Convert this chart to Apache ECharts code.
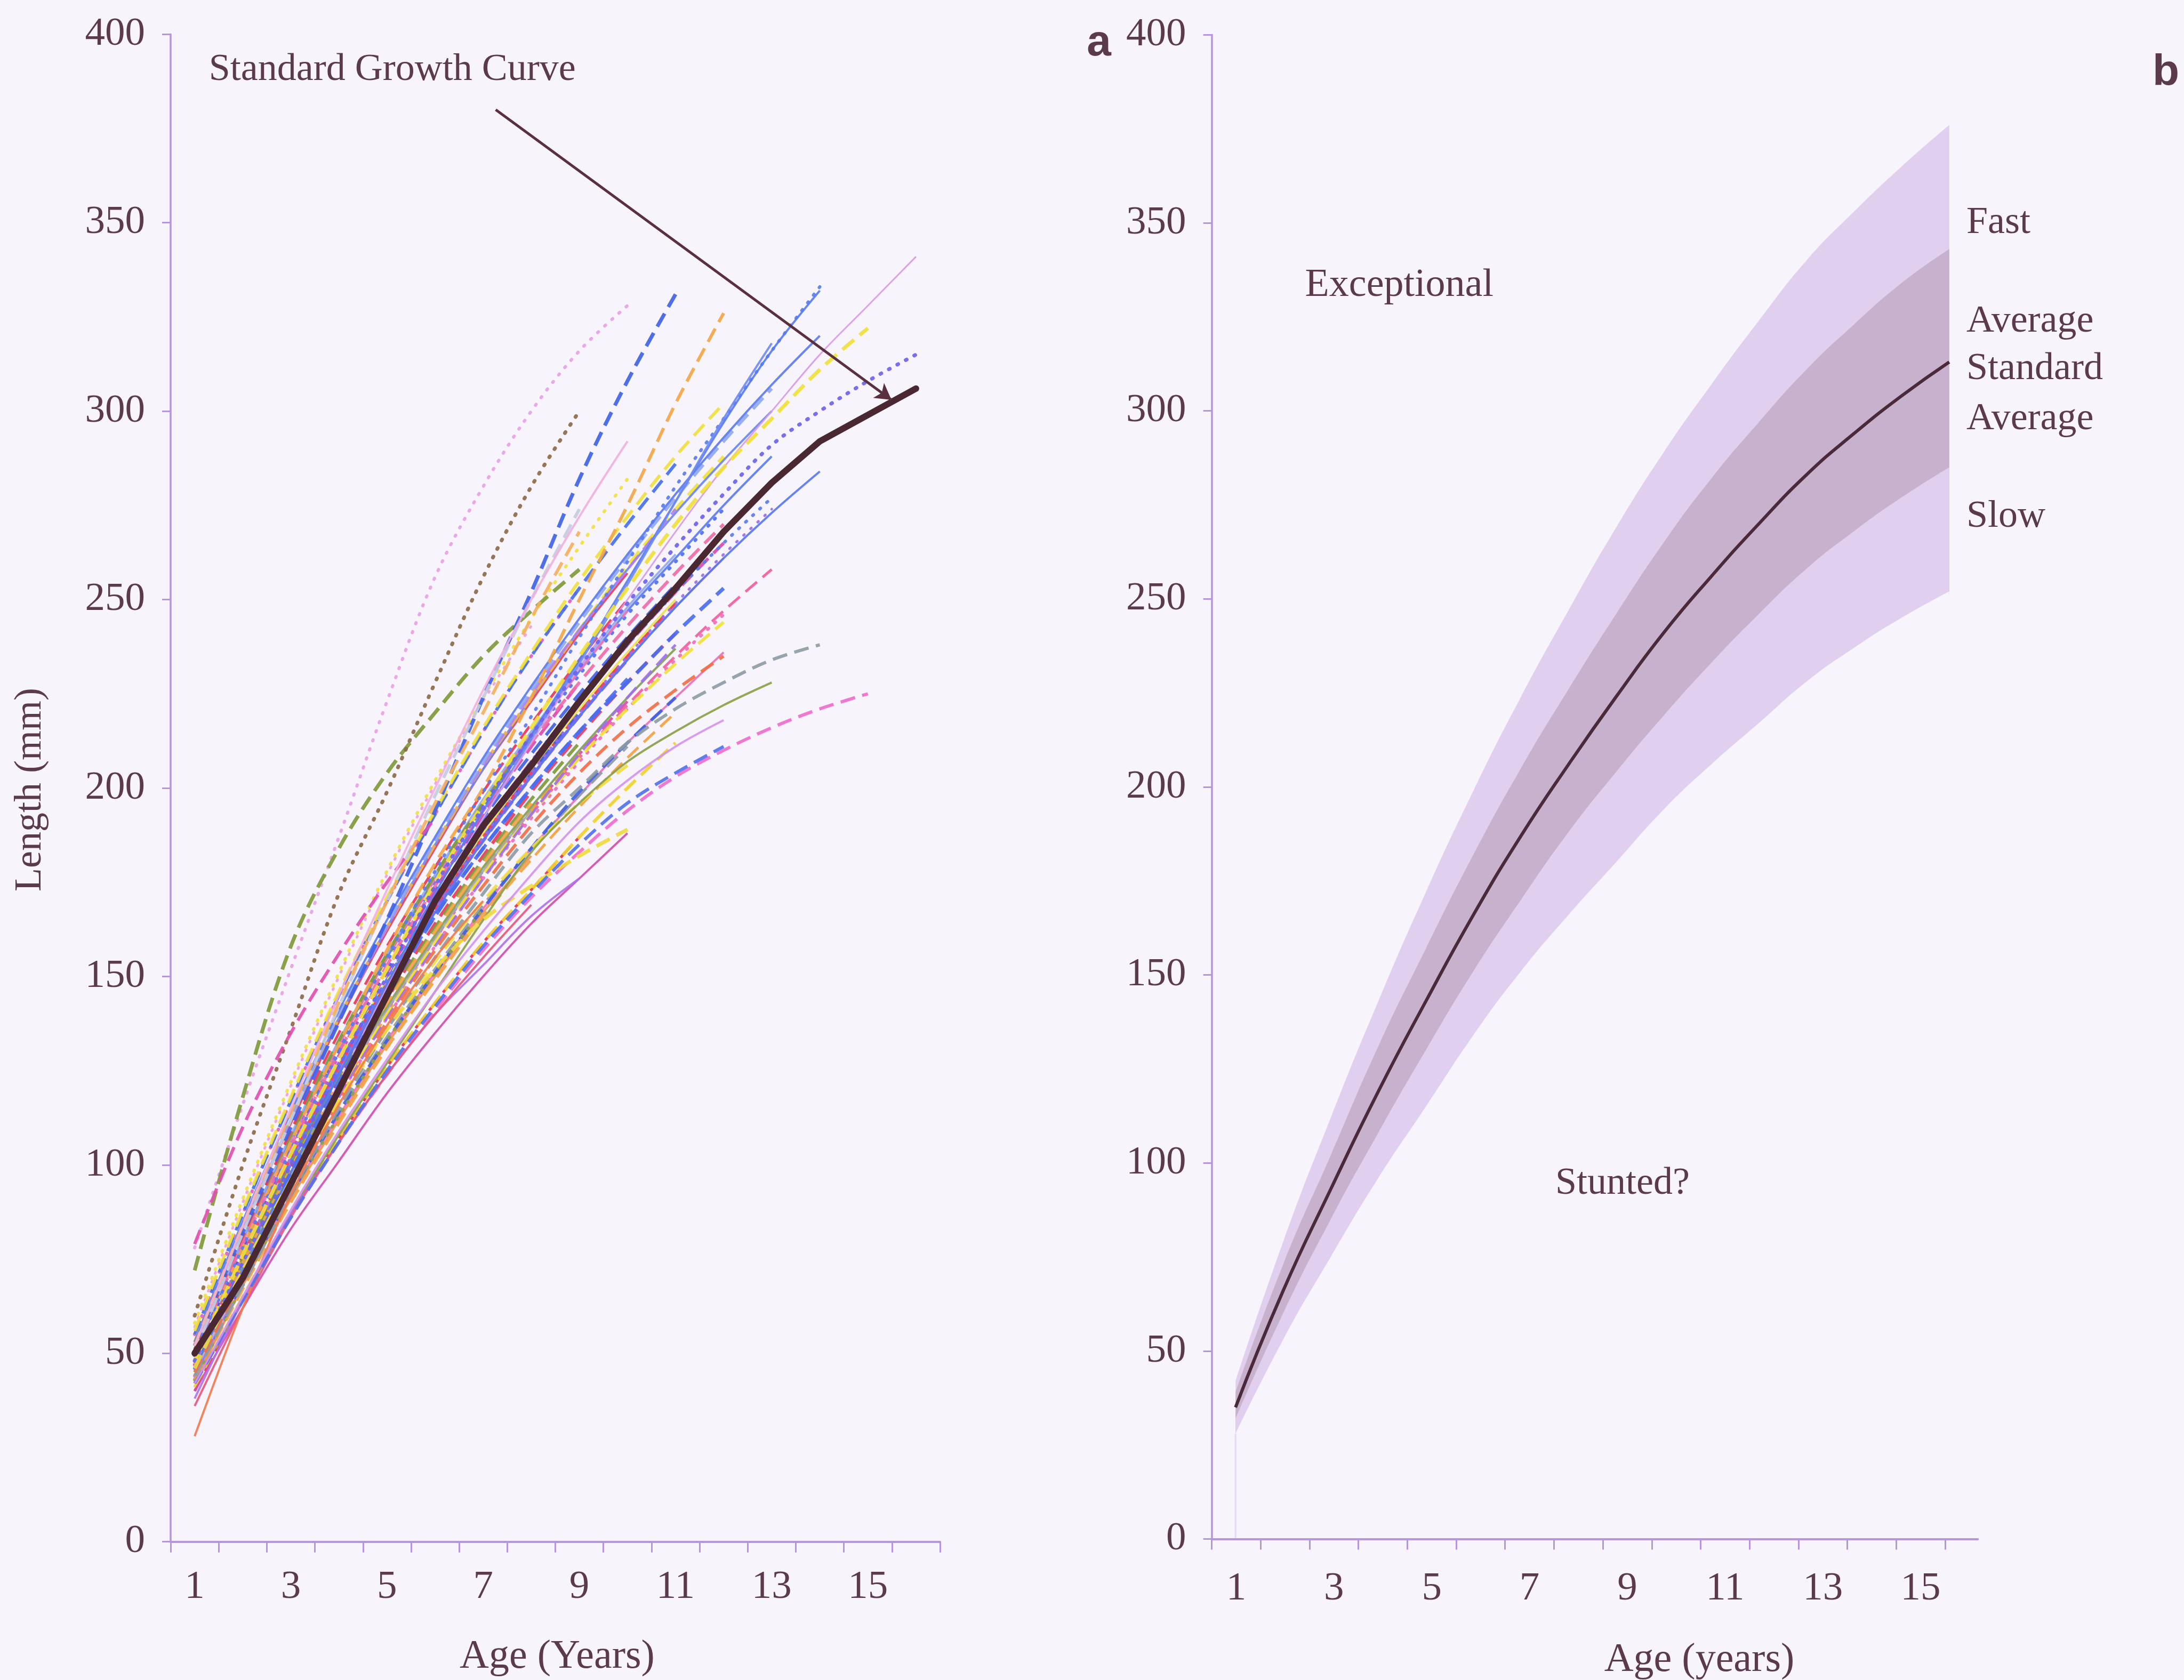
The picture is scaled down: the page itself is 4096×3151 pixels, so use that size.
<!DOCTYPE html>
<html><head><meta charset="utf-8">
<script src="https://cdn.jsdelivr.net/npm/echarts@6/dist/echarts.min.js"></script>
<style>html,body{margin:0;padding:0;background:#f8f4fb;}#c{width:4096px;height:3151px;}</style>
</head><body><div id="c"></div>
<script>
// ---------- categories / ticks ----------
const ageCatsA = ['1','2','3','4','5','6','7','8','9','10','11','12','13','14','15','16'];
const ageCatsB = ['1','2','3','4','5','6','7','8','9','10','11','12','13','14','15'];
const ages = [1,2,3,4,5,6,7,8,9,10,11,12,13,14,15,16];

// ---------- panel a : individual growth curves (length, mm, from age 1) ----------
const standardA = [50, 70, 95, 120, 145, 170, 190, 206, 223, 239, 253, 268, 281, 292, 299, 306];

const fishA = [78, 116, 152, 187, 223, 256, 280, 300, 316, 328];
const fishB = [72, 118, 158, 184, 204, 220, 235, 247, 258];
const fishC = [60, 100, 136, 172, 199, 228, 256, 280, 300];
const fishD = [52, 82, 110, 138, 165, 194, 224, 252, 282, 308, 331];
const fishE = [48, 78, 106, 132, 157, 180, 200, 224, 250, 275, 302, 326];
const fishF1 = [46, 72, 98, 124, 148, 172, 194, 214, 234, 255, 276, 297, 316, 332];
const fishF2 = [50, 78, 104, 130, 155, 178, 199, 219, 240, 260, 280, 298, 316, 333];
const fishF3 = [44, 70, 96, 121, 146, 170, 192, 213, 233, 254, 276, 298, 318];
const fishG = [45, 70, 96, 122, 147, 170, 192, 212, 232, 250, 268, 285, 300, 315, 328, 341];
const fishH = [48, 76, 103, 128, 152, 175, 196, 216, 235, 253, 270, 285, 298, 311, 322];
const fishI = [48, 74, 100, 126, 150, 174, 195, 214, 232, 249, 264, 278, 291, 300, 308, 315];
const fishJ = [44, 68, 92, 115, 136, 155, 172, 188, 200, 212, 221, 228, 234, 238];
const fishK = [42, 64, 87, 108, 127, 146, 165, 183, 196, 207, 215, 222, 228];
const fishL = [45, 70, 94, 117, 138, 157, 174, 190, 204, 216, 226, 235];
const fishM = [42, 64, 86, 106, 124, 141, 157, 171, 183, 194, 203, 210, 216, 221, 225];
const fishN = [46, 72, 98, 122, 145, 166, 184, 200, 215, 228, 241, 253];
const fishO = [38, 64, 87, 106, 124, 140, 153, 166, 176];
const fishP = [36, 62, 86, 106, 124, 140, 155, 169];
const fishQ = [46, 72, 96, 117, 136, 152, 165, 174, 182, 189];
const fishR = [28, 62, 92, 116, 137, 155, 170];
const fishS = [79, 110, 135, 156, 175, 192];
const fishT = [50, 82, 112, 142, 170, 198, 224, 250, 274];
const fishU = [52, 84, 114, 143, 170, 196, 220, 245, 268];
const fishV = [52, 84, 115, 145, 173, 200, 226, 250, 272, 292];
const fishW = [42, 64, 86, 106, 125, 142, 158, 172, 185, 196, 204, 211];
const fishX = [42, 65, 88, 109, 128, 146, 162, 177, 191, 202, 211, 218];

const fish01 = [50, 80, 107, 132, 155, 176, 196, 214, 231, 247, 261, 275, 288];
const fish02 = [47, 75, 101, 126, 148, 168, 187, 204, 220, 235, 249];
const fish03 = [53, 84, 112, 139, 163, 185, 206, 224, 242, 259, 274, 288];
const fish04 = [46, 72, 97, 120, 141, 160, 178, 194, 209, 223];
const fish05 = [48, 77, 103, 127, 149, 169, 187, 204, 220];
const fish06 = [50, 80, 107, 132, 155, 176, 196, 214];
const fish07 = [43, 68, 92, 113, 133, 151, 168, 184, 198, 212, 224, 236];
const fish08 = [45, 71, 96, 119, 140, 160, 178, 194, 209];
const fish09 = [48, 75, 101, 125, 147, 167, 186, 203, 219, 234, 248, 261];
const fish10 = [44, 69, 93, 114, 134, 152, 169, 184, 198, 211];
const fish11 = [52, 83, 111, 138, 162, 184, 205, 223, 241, 257];
const fish12 = [50, 79, 106, 131, 154, 175, 195, 213, 230, 246, 260, 274];
const fish13 = [47, 76, 102, 127, 149, 169, 188, 205, 221, 236, 250];
const fish14 = [45, 72, 97, 120, 141, 160, 177, 193, 208, 222, 235, 247, 258];
const fish15 = [52, 83, 112, 139, 163, 185, 205, 224, 242, 258, 273, 287, 300];
const fish16 = [42, 68, 91, 112, 132, 150, 167, 182];
const fish17 = [49, 77, 103, 127, 148, 168, 186, 203, 219, 234];
const fish18 = [46, 73, 98, 121, 142, 161, 179, 195, 210, 224, 237];
const fish19 = [55, 87, 117, 145, 170, 193, 215, 235, 253];
const fish20 = [40, 64, 87, 107, 126, 143, 159, 173, 187];
const fish21 = [55, 87, 117, 145, 170, 193, 215, 235, 253, 270, 286];
const fish22 = [58, 91, 122, 151, 178, 202, 224, 245, 264, 282];
const fish23 = [50, 80, 108, 133, 156, 177, 197, 215, 232, 248, 262];
const fish24 = [51, 80, 107, 132, 155, 176, 196, 214, 231, 247];
const fish25 = [45, 72, 97, 120, 141, 160, 178, 194];
const fish26 = [53, 84, 112, 139, 163, 185, 206, 224, 242];
const fish27 = [43, 69, 92, 114, 133, 151, 168, 184, 199, 212, 224];
const fish28 = [47, 76, 102, 126, 148, 168, 187, 204];
const fish29 = [43, 68, 92, 113, 133, 151, 168];
const fish30 = [52, 83, 111, 138, 163, 186, 206, 225, 242, 258, 274];
const fish31 = [46, 74, 100, 124, 146, 167, 186, 203, 219, 234, 248, 261, 273, 284];
const fish32 = [41, 65, 87, 107, 126, 143, 159, 173, 187, 200, 212];
const fish33 = [57, 90, 121, 150, 177, 201, 223, 243];
const fish34 = [40, 62, 83, 101, 119, 135, 150, 164, 176, 188];
const fish35 = [52, 84, 113, 140, 164, 186, 207, 226, 244, 261, 277, 292, 306];
const fish36 = [56, 88, 118, 146, 171, 194, 216, 236, 255, 272, 288, 302];
const fish37 = [49, 78, 104, 129, 151, 171, 190, 207, 223, 238, 252, 265];
const fish38 = [46, 73, 99, 123, 144, 164, 182, 199, 214, 228, 241];
const fish39 = [47, 74, 100, 124, 146, 166, 184, 200, 215, 229];
const fish40 = [51, 81, 108, 133, 156, 177, 196, 213];
const fish41 = [44, 70, 95, 118, 139, 158, 176, 192, 207, 221, 234, 246];
const fish42 = [43, 67, 90, 111, 131, 149, 166, 181, 195, 208, 220];
const fish43 = [45, 70, 94, 116, 136, 154, 170, 184, 196, 206];
const fish44 = [48, 76, 102, 126, 148, 168, 187, 204, 220, 235, 249, 262, 274];
const fish45 = [49, 78, 105, 130, 152, 173, 192, 209, 225, 240, 254];
const fish46 = [51, 81, 109, 135, 158, 179, 199, 217, 234, 250];
const fish47 = [44, 71, 96, 119, 140, 159, 177, 193, 208, 221, 233, 244];
const fish48 = [48, 77, 104, 129, 152, 173, 193, 211, 228];
const fish49 = [46, 74, 101, 126, 149, 170, 189, 207, 223, 238, 252, 265, 277];
const fish50 = [47, 75, 100, 123, 144, 163, 181, 197, 212];
const fish51 = [50, 79, 105, 130, 153, 174, 194, 212, 228, 243, 257, 270];
const fish52 = [47, 74, 99, 122, 143, 162, 180, 196];
const fish53 = [44, 70, 95, 118, 139, 158, 176, 193, 209, 224, 238];
const fish54 = [53, 85, 114, 141, 165, 187, 208, 227, 245, 262, 278, 293, 307, 320];

const fishList = [fish01,fish02,fish03,fish04,fish05,fish06,fish07,fish08,fish09,fish10,fish11,fish12,fish13,fish14,fish15,fish16,fish17,fish18,fish19,fish20,fish21,fish22,fish23,fish24,fish25,fish26,fish27,fish28,fish29,fish30,fish31,fish32,fish33,fish34,fish35,fish36,fish37,fish38,fish39,fish40,fish41,fish42,fish43,fish44,
  fish45,fish46,fish47,fish48,fish49,fish50,fish51,fish52,fish53,fish54,
  fishA,fishB,fishC,fishD,fishE,fishF1,fishF2,fishF3,fishG,fishH,fishI,fishJ,fishK,fishL,fishM,fishN,fishO,fishP,fishQ,fishR,fishS,fishT,fishU,fishV,fishW,fishX];

// ---------- panel b : growth bands ----------
const fastUpper = [42, 79, 112, 143, 172, 199, 224, 247, 269, 289, 307, 324, 340, 353, 365, 376];
const avgUpper  = [39, 73, 102, 131, 157, 182, 205, 226, 246, 265, 282, 297, 311, 323, 334, 343];
const standardB = [35, 66, 93, 119, 143, 166, 187, 206, 224, 241, 256, 270, 283, 294, 304, 313];
const avgLower  = [32, 60, 85, 108, 130, 151, 170, 188, 204, 219, 233, 246, 258, 268, 277, 285];
const slowLower = [28, 53, 75, 96, 115, 134, 151, 166, 180, 194, 206, 217, 228, 237, 245, 252];

// ---------- styles (kept apart from data) ----------
const fishStyle = [
 ['#5a7cf0','solid',4],['#e8375a','dash',5],['#f0e23c','dash',6],['#d94aae','dash',5],['#3f63e6','dash',7],
 ['#7f9a3a','dash',6],['#ef6fbd','solid',4],['#f2a445','dash',6],['#a66fe6','solid',4],['#8d9aa6','dash',5],
 ['#e04060','solid',4],['#5070f0','dot',6],['#efe050','solid',4],['#f060a0','dash',5],['#6a86f0','solid',4],
 ['#f29050','solid',4],['#9060e0','dash',6],['#80a050','solid',4],['#e060c0','dot',6],['#e83050','dash',5],
 ['#4870e8','dash',6],['#f0e040','dot',6],['#90a8f0','solid',4],['#ec78b8','dash',5],['#a0a8b8','solid',4],
 ['#f0b050','dash',6],['#4060e0','dash',6],['#f04070','dot',6],['#90a048','dot',6],['#b080f0','dash',5],
 ['#5878f0','solid',4],['#f0d030','dash',6],['#f0a0d8','dot',5],['#d050b0','solid',4],['#90a8f0','dash',6],
 ['#f0e03c','dash',6],['#d94aae','dash',6],['#e83a5a','dash',6],['#4a6ef0','dash',6],['#7f9a3a','dash',6],
 ['#ef6fbd','dot',6],['#f2a040','dash',5],['#f0dc40','dash',6],['#9a6ce8','dot',5],
 ['#3f63e6','dash',6],['#e8375a','dash',5],['#f0e23c','dash',6],['#d94aae','dash',6],['#5a7cf0','dot',6],
 ['#7f9a3a','dash',6],['#f06ca8','dash',6],['#f2a445','dash',6],['#a070ea','dash',5],['#5a7cf0','solid',4],
 ['#e7a2e6','dot',6],['#7f9a3a','dash',7],['#8c6a48','dot',7],['#3f63e6','dash',7],['#f2a648','dash',6],
 ['#5a7cf0','solid',4],['#5a7cf0','dot',6],['#6f8cf2','solid',4],['#d79be6','solid',3],['#f0e03c','dash',7],
 ['#6c63ee','dot',7],['#8d9ca6','dash',6],['#8aa048','solid',4],['#f07048','dash',6],['#f06ccc','dash',6],
 ['#4a6ef0','dash',7],['#b072ea','solid',4],['#e6587e','solid',4],['#f0d840','dash',7],['#f27a52','solid',4],
 ['#e050b0','dash',6],['#c5cbe0','dash',6],['#f4b060','dash',6],['#f1b0e0','solid',4],['#5272ec','dash',6],
 ['#d494ec','solid',4]
];
const dashKinds = {solid:'solid', dash:[28,14], dot:[2,16]};

const AXIS = '#b596dc';
const TXT = '#5a3a4c';
const BG = '#f8f4fb';
const SERIF = '"Liberation Serif", "Times New Roman", serif';
const LIGHT = '#e1cff0';
const INNER = '#c7b1cc';

function pairs(vals){ return vals.map((v,i)=>[ages[i], v]); }
const lastAge = ages[ages.length - 1];

const series = [];
fishList.forEach((vals, i) => {
  const st = fishStyle[i];
  series.push({
    type:'line', xAxisIndex:1, yAxisIndex:0, data:pairs(vals), symbol:'none', smooth:0.35, silent:true, z:2,
    lineStyle:{color:st[0], width:st[2], type:dashKinds[st[1]], cap: st[1]==='dot' ? 'round' : 'butt', opacity:0.92}
  });
});
series.push({
  type:'line', xAxisIndex:1, yAxisIndex:0, data:pairs(standardA), symbol:'none', smooth:false, silent:true, z:5,
  lineStyle:{color:'#4a2832', width:12, cap:'round', join:'round'},
  markLine:{
    silent:true, symbol:['none','arrow'], symbolSize:[26,30], z:6,
    label:{show:false},
    lineStyle:{color:'#5a3040', width:5, type:'solid'},
    data:[[{coord:[7.26, 380]}, {coord:[15.49, 303]}]]
  }
});

// panel b bands: each boundary filled down to the axis, drawn outer to inner; lowest fill uses page colour
const bandCommon = {type:'line', xAxisIndex:3, yAxisIndex:2, symbol:'none', smooth:true, silent:true, z:1,
  lineStyle:{width:0, opacity:0}};
series.push(Object.assign({}, bandCommon, {data:pairs(fastUpper), areaStyle:{color:LIGHT, opacity:1, origin:'start'}}));
series.push(Object.assign({}, bandCommon, {data:pairs(avgUpper), areaStyle:{color:INNER, opacity:1, origin:'start'}}));
series.push(Object.assign({}, bandCommon, {data:pairs(avgLower), areaStyle:{color:LIGHT, opacity:1, origin:'start'}}));
series.push(Object.assign({}, bandCommon, {data:pairs(slowLower), areaStyle:{color:BG, opacity:1, origin:'start'}}));
// clean the right-hand edge below the slow band
series.push({type:'line', xAxisIndex:3, yAxisIndex:2, data:[[lastAge,0],[lastAge,slowLower[slowLower.length-1]-1]], symbol:'none', silent:true, z:1,
  lineStyle:{color:BG, width:4}});
series.push({type:'line', xAxisIndex:3, yAxisIndex:2, data:[[ages[0],0],[ages[0],slowLower[0]]], symbol:'none', silent:true, z:1,
  lineStyle:{color:'#e6d9f2', width:3}});
series.push({type:'line', xAxisIndex:3, yAxisIndex:2, data:pairs(standardB), symbol:'none', smooth:true, silent:true, z:4,
  lineStyle:{color:'#4a2a3a', width:6}});

const labelStyle = {color:TXT, fontFamily:SERIF, fontSize:75};
const yAxisVisible = (grid) => ({
  gridIndex:grid, type:'value', min:0, max:400, interval:50,
  axisLine:{show:true, lineStyle:{color:AXIS, width:3.5}},
  axisTick:{show:true, inside:false, length:16, lineStyle:{color:AXIS, width:3}},
  axisLabel:Object.assign({show:true, margin:48}, labelStyle),
  splitLine:{show:false}
});

const option = {
  backgroundColor:BG,
  animation:false,
  grid:[
    {left:320, top:64.3, width:1443, height:2827.4},
    {left:2272.6, top:65.3, width:1375.3, height:2821.2},
    {left:2272.6, top:65.3, width:1436.7, height:2821.2}
  ],
  xAxis:[
    {gridIndex:0, type:'category', data:ageCatsA, boundaryGap:true, position:'bottom', z:8,
     axisLine:{show:true, onZero:false, lineStyle:{color:AXIS, width:4}},
     axisTick:{show:true, interval:0, inside:false, length:20, lineStyle:{color:AXIS, width:3}},
     axisLabel:Object.assign({interval:1, margin:48}, labelStyle),
     splitLine:{show:false}},
    {gridIndex:0, type:'value', min:0.5, max:16.5, show:false, position:'top'},
    {gridIndex:1, type:'category', data:ageCatsB, boundaryGap:true, position:'bottom', z:8,
     axisLine:{show:false},
     axisTick:{show:true, interval:0, inside:false, length:20, lineStyle:{color:AXIS, width:3}},
     axisLabel:Object.assign({interval:1, margin:56}, labelStyle),
     splitLine:{show:false}},
    {gridIndex:2, type:'value', min:0.5, max:16.6, position:'bottom', z:8,
     axisLine:{show:true, onZero:false, lineStyle:{color:AXIS, width:4}},
     axisTick:{show:false}, axisLabel:{show:false}, splitLine:{show:false}}
  ],
  yAxis:[
    yAxisVisible(0),
    {gridIndex:1, type:'value', min:0, max:400, show:false},
    Object.assign(yAxisVisible(2), {z:8})
  ],
  series:series,
  graphic:[
    {type:'text', x:391.8, y:130.6, z:10, style:{text:'Standard Growth Curve', font:'72px ' + SERIF, fill:TXT, align:'left', verticalAlign:'middle'}},
    {type:'text', x:2061, y:81, z:10, style:{text:'a', font:'bold 82px "Liberation Sans", Arial, sans-serif', fill:TXT, align:'center', verticalAlign:'middle'}},
    {type:'text', x:4062, y:136, z:10, style:{text:'b', font:'bold 82px "Liberation Sans", Arial, sans-serif', fill:TXT, align:'center', verticalAlign:'middle'}},
    {type:'text', x:2447.6, y:535.5, z:10, style:{text:'Exceptional', font:'74px ' + SERIF, fill:TXT, align:'left', verticalAlign:'middle'}},
    {type:'text', x:3043, y:2220, z:10, style:{text:'Stunted?', font:'72px ' + SERIF, fill:TXT, align:'center', verticalAlign:'middle'}},
    {type:'text', x:3688, y:418, z:10, style:{text:'Fast', font:'72px ' + SERIF, fill:TXT, align:'left', verticalAlign:'middle'}},
    {type:'text', x:3688, y:603, z:10, style:{text:'Average', font:'72px ' + SERIF, fill:TXT, align:'left', verticalAlign:'middle'}},
    {type:'text', x:3688, y:692, z:10, style:{text:'Standard', font:'72px ' + SERIF, fill:TXT, align:'left', verticalAlign:'middle'}},
    {type:'text', x:3688, y:786, z:10, style:{text:'Average', font:'72px ' + SERIF, fill:TXT, align:'left', verticalAlign:'middle'}},
    {type:'text', x:3688, y:969, z:10, style:{text:'Slow', font:'72px ' + SERIF, fill:TXT, align:'left', verticalAlign:'middle'}},
    {type:'text', x:57.5, y:1481, rotation:Math.PI/2, z:10, style:{text:'Length (mm)', font:'72px ' + SERIF, fill:TXT, align:'center', verticalAlign:'middle'}},
    {type:'text', x:1045, y:3108, z:10, style:{text:'Age (Years)', font:'76px ' + SERIF, fill:TXT, align:'center', verticalAlign:'middle'}},
    {type:'text', x:3187, y:3114, z:10, style:{text:'Age (years)', font:'76px ' + SERIF, fill:TXT, align:'center', verticalAlign:'middle'}}
  ]
};

const chart = echarts.init(document.getElementById('c'), null, {renderer:'canvas', width:4096, height:3151});
chart.setOption(option);
</script>
</body></html>
